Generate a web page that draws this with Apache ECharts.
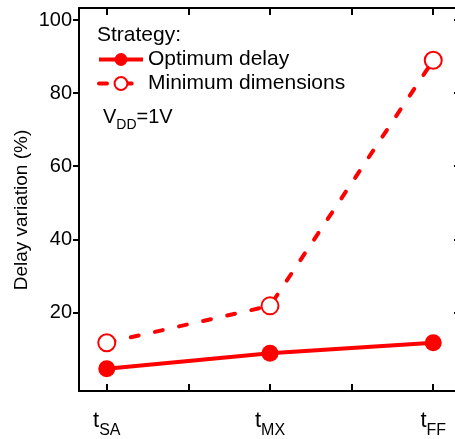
<!DOCTYPE html>
<html><head><meta charset="utf-8">
<script src="https://cdn.jsdelivr.net/npm/echarts@6/dist/echarts.min.js"></script>
<style>html,body{margin:0;padding:0;background:#fff}#c{width:455px;height:439px}</style>
</head><body><div id="c"></div>
<script>
const categories = ['SA', 'MX', 'FF'];
const catPositions = [0, 2, 4];
const xTicks = [0, 1, 2, 3, 4];
const yTicks = [20, 40, 60, 80, 100];
const optimumDelay = [4.6, 8.8, 11.7];
const minimumDimensions = [11.7, 21.8, 89.0];
const seriesNames = ['Optimum delay', 'Minimum dimensions'];

const FONT = "'Liberation Sans', Arial, sans-serif";
const RED = '#ff0000';
const toPairs = vals => vals.map((v, i) => [catPositions[i], v]);

const chart = echarts.init(document.getElementById('c'), null, {renderer: 'canvas'});
const axisLine = {show: true, onZero: false, lineStyle: {color: '#000', width: 2}};
const tickStyle = {color: '#000', width: 2};

chart.setOption({
  animation: false,
  backgroundColor: '#fff',
  grid: {left: 79, top: 8, width: 382, height: 383, containLabel: false, outerBoundsMode: 'none'},
  xAxis: [{
    type: 'value', min: -0.34, max: 4.34, position: 'bottom',
    axisLine: axisLine,
    axisTick: {show: true, inside: true, length: 7, customValues: xTicks, lineStyle: tickStyle},
    axisLabel: {
      show: true, customValues: catPositions, margin: 12,
      formatter: v => '{t|t}{s|' + categories[catPositions.indexOf(v)] + '}',
      rich: {
        t: {fontSize: 22, fontFamily: FONT, color: '#000'},
        s: {fontSize: 16, fontFamily: FONT, color: '#000', padding: [20, 0, 0, 0]}
      }
    },
    splitLine: {show: false}
  }, {
    type: 'value', min: -0.34, max: 4.34, position: 'top',
    axisLine: axisLine,
    axisTick: {show: true, inside: true, length: 7, customValues: xTicks, lineStyle: tickStyle},
    axisLabel: {show: false},
    splitLine: {show: false}
  }],
  yAxis: [{
    type: 'value', min: -1.5, max: 103.3, position: 'left',
    axisLine: axisLine,
    axisTick: {show: true, inside: false, length: 6, customValues: yTicks, lineStyle: tickStyle},
    axisLabel: {show: true, customValues: yTicks, margin: 7, fontSize: 20, fontFamily: FONT, color: '#000'},
    splitLine: {show: false}
  }, {
    type: 'value', min: -1.5, max: 103.3, position: 'right',
    axisLine: axisLine,
    axisTick: {show: true, inside: true, length: 7, customValues: yTicks, lineStyle: tickStyle},
    axisLabel: {show: false},
    splitLine: {show: false}
  }],
  legend: {
    orient: 'vertical', left: 92, top: 44, itemGap: 3,
    itemWidth: 44, itemHeight: 16,
    lineStyle: {width: 4},
    textStyle: {fontSize: 21, fontFamily: FONT, color: '#000'},
    data: seriesNames
  },
  graphic: [
    {type: 'text', left: 97, top: 25, style: {text: 'Strategy:', font: '21px ' + FONT, fill: '#000'}},
    {type: 'text', left: 103, top: 107, style: {
      text: '{v|V}{s|DD}{v|=1V}',
      rich: {
        v: {fontSize: 20, fontFamily: FONT, fill: '#000'},
        s: {fontSize: 14, fontFamily: FONT, fill: '#000', padding: [16, 0, 0, 0]}
      }
    }},
    {type: 'text', x: 22, y: 210, rotation: Math.PI / 2, style: {
      text: 'Delay variation (%)', font: '19px ' + FONT, fill: '#000',
      align: 'center', verticalAlign: 'middle'
    }}
  ],
  series: [{
    name: seriesNames[0], type: 'line', data: toPairs(optimumDelay),
    symbol: 'circle', symbolSize: 17,
    lineStyle: {color: RED, width: 4},
    itemStyle: {color: RED}
  }, {
    name: seriesNames[1], type: 'line', data: toPairs(minimumDimensions),
    symbol: 'emptyCircle', symbolSize: 17,
    lineStyle: {color: RED, width: 4, type: [8, 16.7], cap: 'round'},
    itemStyle: {color: RED, borderWidth: 1.5}
  }]
});
</script></body></html>
